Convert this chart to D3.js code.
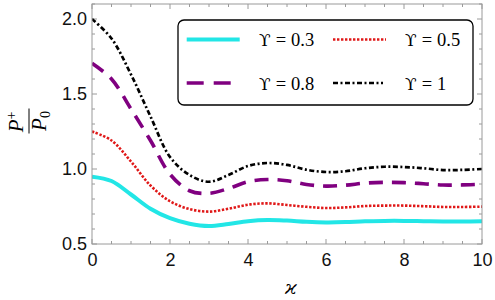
<!DOCTYPE html>
<html><head><meta charset="utf-8">
<script src="https://cdn.jsdelivr.net/npm/d3@7/dist/d3.min.js"></script>
<style>body{margin:0;background:#fff}svg{display:block}</style>
</head><body>
<svg id="c" width="495" height="300"></svg>
<script>
const xs = [0,0.5,1,1.5,2,2.5,3,3.5,4,4.5,5,5.5,6,6.5,7,7.5,8,8.5,9,9.5,10];
const y03 = [0.949,0.92,0.83,0.735,0.672,0.635,0.62,0.634,0.652,0.66,0.656,0.648,0.644,0.646,0.652,0.654,0.654,0.652,0.65,0.65,0.651];
const y05 = [1.25,1.19,1.05,0.89,0.785,0.733,0.716,0.735,0.762,0.771,0.76,0.748,0.74,0.744,0.753,0.756,0.756,0.752,0.747,0.747,0.749];
const y08 = [1.705,1.60,1.40,1.19,0.965,0.855,0.838,0.87,0.915,0.93,0.922,0.897,0.886,0.892,0.906,0.911,0.909,0.902,0.893,0.894,0.898];
const y10 = [2.0,1.87,1.63,1.35,1.08,0.96,0.915,0.96,1.02,1.04,1.027,0.995,0.98,0.985,1.005,1.015,1.013,1.005,0.993,0.994,1.0];
const seriesSymbol = "ϒ";
const seriesValues = ["0.3","0.5","0.8","1"];
const xTicks = [0,2,4,6,8,10];
const yTicks = [0.5,1.0,1.5,2.0];

const styles = [
  {color:"#22e6e6", width:4, dash:null},
  {color:"#e01818", width:2.6, dash:"2.4,1.6"},
  {color:"#800080", width:3.6, dash:"14,9"},
  {color:"#000000", width:2.7, dash:"5,2.5,2,2.5"}
];
const data = [y03,y05,y08,y10];

const svg = d3.select("#c");
const L=92, R=482, T=4, B=244;
const x = d3.scaleLinear().domain([0,10]).range([L,R]);
const y = d3.scaleLinear().domain([0.5,2.1]).range([B,T]);
const frameCol = "#9a9a9a";

svg.append("defs").append("clipPath").attr("id","cp")
  .append("rect").attr("x",L).attr("y",T).attr("width",R-L).attr("height",B-T);

// ticks
const xMinor = d3.range(0,10.01,0.5);
const yMinor = d3.range(0.5,2.101,0.1);
const tg = svg.append("g").attr("stroke",frameCol).attr("stroke-width",1);
xMinor.forEach(v=>{
  const major = Math.abs(v-Math.round(v/2)*2)<1e-6;
  const len = major?5:3;
  tg.append("line").attr("x1",x(v)).attr("x2",x(v)).attr("y1",B).attr("y2",B-len);
  tg.append("line").attr("x1",x(v)).attr("x2",x(v)).attr("y1",T).attr("y2",T+len);
});
yMinor.forEach(v=>{
  const major = Math.abs(v*2-Math.round(v*2))<1e-6;
  const len = major?5:3;
  tg.append("line").attr("x1",L).attr("x2",L+len).attr("y1",y(v)).attr("y2",y(v));
  tg.append("line").attr("x1",R).attr("x2",R-len).attr("y1",y(v)).attr("y2",y(v));
});

const xa = svg.append("g").attr("transform",`translate(0,${B})`)
  .call(d3.axisBottom(x).tickValues(xTicks).tickFormat(d3.format("d")).tickSize(0).tickPadding(9));
const ya = svg.append("g").attr("transform",`translate(${L},0)`)
  .call(d3.axisLeft(y).tickValues(yTicks).tickFormat(d3.format(".1f")).tickSize(0).tickPadding(5));
[xa,ya].forEach(a=>{
  a.select(".domain").remove();
  a.selectAll("text").attr("font-family","Liberation Sans, Arial, sans-serif").attr("font-size",18).attr("fill","#111");
});

// lines
const line = d3.line().x((d,i)=>x(xs[i])).y(d=>y(d)).curve(d3.curveCatmullRom.alpha(0.5));
const lg = svg.append("g").attr("clip-path","url(#cp)");
data.forEach((arr,i)=>{
  const p = lg.append("path").attr("d",line(arr)).attr("fill","none")
    .attr("stroke",styles[i].color).attr("stroke-width",styles[i].width);
  if(styles[i].dash) p.attr("stroke-dasharray",styles[i].dash);
});

svg.append("rect").attr("x",L).attr("y",T).attr("width",R-L).attr("height",B-T)
  .attr("fill","none").attr("stroke",frameCol).attr("stroke-width",1);

// legend
const leg = svg.append("g");
leg.append("rect").attr("x",178).attr("y",20).attr("width",295).attr("height",85)
  .attr("rx",6).attr("ry",6).attr("fill","#fff").attr("stroke","#000").attr("stroke-width",1.3);
const lpos = [[186.7,39.5],[333,39.5],[186.7,83],[333,83]];
const llen = [53,53,44,50];
const tx = [259,405,259,405];
const sf = "Liberation Serif, Times New Roman, serif";
seriesValues.forEach((n,i)=>{
  const [lx,ly]=lpos[i];
  const p = leg.append("line").attr("x1",lx).attr("x2",lx+llen[i]).attr("y1",ly).attr("y2",ly)
    .attr("stroke",styles[i].color).attr("stroke-width",styles[i].width);
  if(styles[i].dash) p.attr("stroke-dasharray", i==2?"17,10":styles[i].dash);
  const t = leg.append("text").attr("x",tx[i]).attr("y",ly+6.5)
    .attr("font-family",sf).attr("font-size",18.5).attr("fill","#000");
  t.append("tspan").attr("font-family","DejaVu Serif, serif").attr("font-size",17).text(seriesSymbol);
  t.append("tspan").attr("dx",5).text("=");
  t.append("tspan").attr("dx",5).text(n);
});

// y label
const yl = svg.append("g").attr("transform","translate(29,121) rotate(-90)");
const num = yl.append("text").attr("x",-1).attr("y",-6).attr("text-anchor","middle")
  .attr("font-family",sf).attr("font-size",21).attr("fill","#000");
num.append("tspan").attr("font-style","italic").text("P");
num.append("tspan").attr("font-size",14).attr("dy",-7).text("+");
yl.append("line").attr("x1",-12.5).attr("x2",12.5).attr("y1",0).attr("y2",0).attr("stroke","#000").attr("stroke-width",1);
const den = yl.append("text").attr("x",0).attr("y",17).attr("text-anchor","middle")
  .attr("font-family",sf).attr("font-size",21).attr("fill","#000");
den.append("tspan").attr("font-style","italic").text("P");
den.append("tspan").attr("font-size",14).attr("dy",4).text("0");

// x label
svg.append("text").attr("x",291).attr("y",294).attr("text-anchor","middle")
  .attr("font-family","DejaVu Serif, serif").attr("font-style","italic").attr("font-size",19)
  .attr("fill","#000").text("ϰ");
</script>
</body></html>
